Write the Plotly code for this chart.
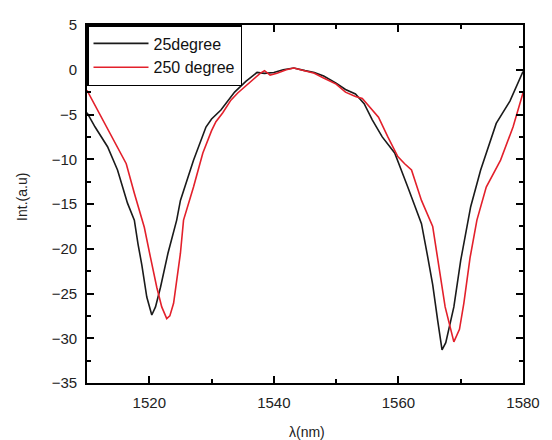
import plotly.graph_objects as go

# 25degree
x_25 = [1510, 1511.3, 1513.3, 1514.9, 1516.5, 1517.6, 1518.2, 1518.8, 1519.6, 1520.4, 1521.0,
        1521.8, 1523.0, 1524.4, 1525.0, 1527.1, 1529.1, 1530.0, 1531.5, 1533.7, 1535.5, 1537.3,
        1538.5, 1540.0, 1541.5, 1543.2, 1545.0, 1546.5, 1548.0, 1550.0, 1551.5, 1553.1, 1554.5,
        1555.8, 1557.4, 1559.4, 1561.5, 1563.7, 1564.7, 1565.5, 1566.3, 1567.0, 1567.6, 1568.9,
        1570.0, 1571.0, 1571.6, 1573.2, 1575.7, 1577.9, 1580.0]
y_25 = [-4.8, -6.4, -8.6, -11.2, -14.9, -16.8, -19.5, -21.8, -25.4, -27.4, -26.5,
        -24.3, -20.5, -16.8, -14.6, -10.1, -6.4, -5.5, -4.5, -2.5, -1.3, -0.3,
        -0.4, -0.3, 0.0, 0.2, -0.1, -0.3, -0.7, -1.5, -2.2, -2.7, -3.8,
        -5.6, -7.5, -9.3, -13.1, -17.2, -20.9, -24.0, -28.0, -31.3, -30.5, -26.5,
        -21.3, -17.5, -15.3, -11.2, -6.0, -3.5, -0.2]

# 250 degree
x_250 = [1510, 1511.7, 1514.0, 1516.3, 1517.6, 1519.2, 1520.2, 1521.2, 1522.0, 1522.8, 1523.3,
         1523.9, 1525.0, 1525.5, 1527.1, 1528.6, 1530.0, 1530.7, 1531.8, 1533.1, 1534.2, 1536.0,
         1537.8, 1538.5, 1539.4, 1540.5, 1542.0, 1543.2, 1545.0, 1546.5, 1547.9, 1550.0, 1551.5,
         1553.1, 1554.2, 1555.5, 1556.8, 1558.3, 1559.9, 1561.0, 1562.1, 1563.7, 1565.5, 1566.5,
         1567.5, 1568.9, 1569.8, 1570.5, 1571.5, 1572.6, 1574.1, 1576.4, 1578.4, 1580.0]
y_250 = [-2.3, -4.5, -7.5, -10.5, -13.8, -17.6, -21.0, -24.3, -26.5, -27.8, -27.5,
         -26.1, -20.5, -16.8, -13.1, -9.3, -6.8, -5.8, -4.8, -3.4, -2.6, -1.5,
         -0.4, -0.1, -0.6, -0.4, 0.0, 0.2, -0.1, -0.4, -0.9, -1.6, -2.5,
         -3.0, -3.2, -4.2, -5.3, -7.5, -9.7, -10.5, -11.2, -14.6, -17.5, -22.0,
         -26.5, -30.4, -29.0, -26.1, -21.0, -16.8, -13.1, -10.1, -6.4, -2.6]

x_ticks = [1520, 1540, 1560, 1580]
y_ticks = [5, 0, -5, -10, -15, -20, -25, -30, -35]

FONT = "Liberation Sans, Arial, sans-serif"

fig = go.Figure()
fig.add_trace(go.Scatter(x=x_25, y=y_25, mode="lines", name="25degree",
                         line=dict(color="#1a1a1a", width=1.6)))
fig.add_trace(go.Scatter(x=x_250, y=y_250, mode="lines", name="250 degree",
                         line=dict(color="#e3202b", width=1.6)))

axis_common = dict(
    showline=True, linecolor="black", linewidth=1.8, mirror="allticks",
    ticks="inside", ticklen=7, tickwidth=1.5, tickcolor="black",
    showgrid=False, zeroline=False, ticklabelstandoff=5,
    tickfont=dict(family=FONT, size=15, color="#222"),
)

fig.update_layout(
    width=552, height=440,
    margin=dict(l=87, r=21, t=25, b=57),
    paper_bgcolor="white", plot_bgcolor="white",
    font=dict(family=FONT, size=14, color="#222"),
    xaxis=dict(range=[1510, 1580], tickvals=x_ticks,
               minor=dict(ticks="inside", dtick=10, tick0=1510, ticklen=4, tickwidth=1.5, tickcolor="black"),
               **axis_common),
    yaxis=dict(range=[-35, 5], tickvals=y_ticks,
               minor=dict(ticks="inside", dtick=2.5, tick0=0, ticklen=4, tickwidth=1.5, tickcolor="black"),
               **axis_common),
    legend=dict(x=0, y=1, xanchor="left", yanchor="top",
                bordercolor="black", borderwidth=1.5, bgcolor="white",
                font=dict(family=FONT, size=16, color="#111"),
                tracegroupgap=0, itemwidth=55),
    showlegend=True,
    annotations=[
        dict(text="λ(nm)", xref="paper", yref="paper", x=0.504, y=-0.137,
             xanchor="center", yanchor="middle", showarrow=False,
             font=dict(family=FONT, size=14, color="#222")),
        dict(text="Int.(a.u)", xref="paper", yref="paper", x=-0.149, y=0.52,
             xanchor="center", yanchor="middle", showarrow=False, textangle=-90,
             font=dict(family=FONT, size=14, color="#222")),
    ],
)

fig.write_html("out.html")
